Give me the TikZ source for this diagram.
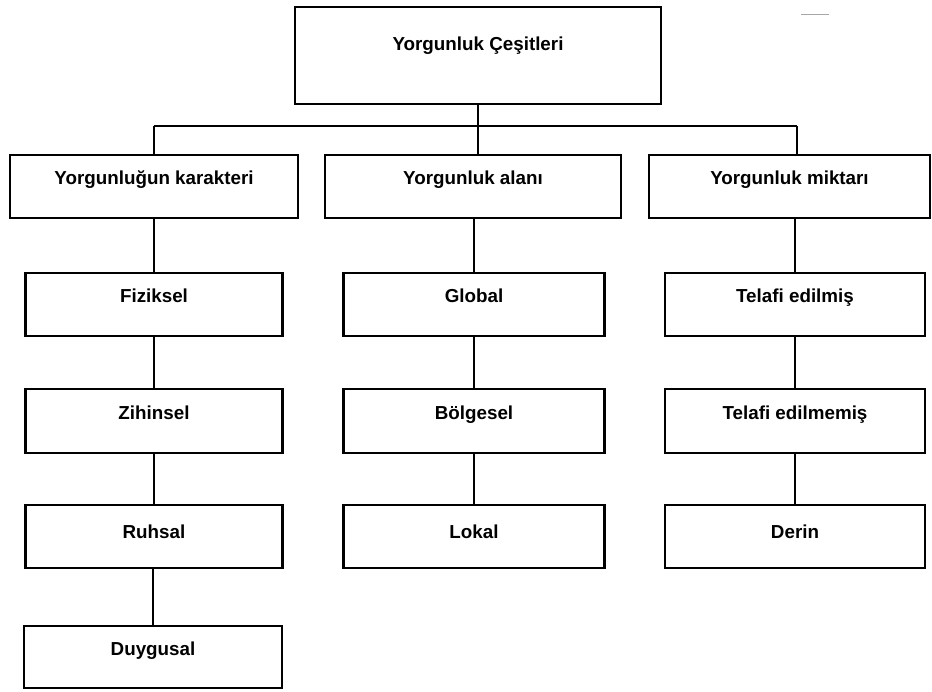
\documentclass[tikz,border=0pt]{standalone}
\usepackage{fontspec}
\setmainfont{Liberation Sans}
\begin{document}
\begin{tikzpicture}[x=1pt,y=-1pt,
  box/.style={draw=black, line width=2.5pt, inner sep=0pt, align=center,
    font=\fontsize{18.8}{22}\selectfont\bfseries},
  conn/.style={draw=black, line width=2.5pt}]
\useasboundingbox (0,0) rectangle (932,691);
% top
\node[box, minimum width=366pt, text height=43pt, text depth=54pt] (top) at (478,55.5) {Yorgunluk Çeşitleri};
% level 1
\node[box, minimum width=288pt, text height=29pt, text depth=34pt] (b1) at (154,186.5) {Yorgunluğun karakteri};
\node[box, minimum width=296pt, text height=29pt, text depth=34pt] (b2) at (473,186.5) {Yorgunluk alanı};
\node[box, minimum width=281pt, text height=29pt, text depth=34pt] (b3) at (789.5,186.5) {Yorgunluk miktarı};
% column 1
\node[box, minimum width=257pt, text height=29pt, text depth=34pt] (f1) at (154,304.5) {Fiziksel};
\node[box, minimum width=257pt, text height=30pt, text depth=34pt] (f2) at (154,421) {Zihinsel};
\node[box, minimum width=257pt, text height=33pt, text depth=30pt] (f3) at (154,536.5) {Ruhsal};
\node[box, minimum width=258pt, text height=29pt, text depth=33pt] (f4) at (153,657) {Duygusal};
% column 2
\node[box, minimum width=261pt, text height=29pt, text depth=34pt] (g1) at (474,304.5) {Global};
\node[box, minimum width=261pt, text height=30pt, text depth=34pt] (g2) at (474,421) {Bölgesel};
\node[box, minimum width=261pt, text height=33pt, text depth=30pt] (g3) at (474,536.5) {Lokal};
% column 3
\node[box, minimum width=260pt, text height=29pt, text depth=34pt] (t1) at (795,304.5) {Telafi edilmiş};
\node[box, minimum width=260pt, text height=30pt, text depth=34pt] (t2) at (795,421) {Telafi edilmemiş};
\node[box, minimum width=260pt, text height=33pt, text depth=30pt] (t3) at (795,536.5) {Derin};
% bus
\coordinate (busL) at (154,126);
\coordinate (busR) at (797,126);
\draw[conn] (busL) -- (busR);
\draw[conn] (top.south) -- (top.south |- b2.north);
\draw[conn] (busL) -- (busL |- b1.north);
\draw[conn] (busR) -- (busR |- b3.north);
% columns
\draw[conn] (f1.north) -- (f1.north |- b1.south);
\draw[conn] (f2.north) -- (f2.north |- f1.south);
\draw[conn] (f3.north) -- (f3.north |- f2.south);
\draw[conn] (f4.north) -- (f4.north |- f3.south);
\draw[conn] (g1.north) -- (g1.north |- b2.south);
\draw[conn] (g2.north) -- (g2.north |- g1.south);
\draw[conn] (g3.north) -- (g3.north |- g2.south);
\draw[conn] (t1.north) -- (t1.north |- b3.south);
\draw[conn] (t2.north) -- (t2.north |- t1.south);
\draw[conn] (t3.north) -- (t3.north |- t2.south);
% stray mark
\draw[gray!70, line width=1pt] (801,14) -- (829,14);
\end{tikzpicture}
\end{document}
